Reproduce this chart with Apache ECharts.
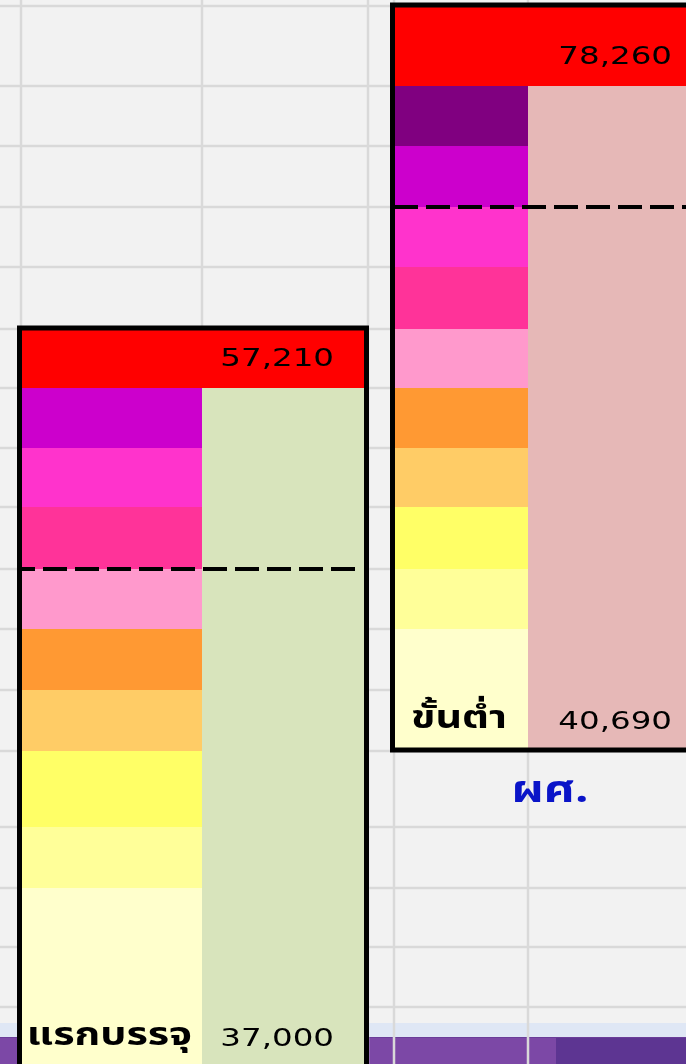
<!DOCTYPE html>
<html>
<head>
<meta charset="utf-8">
<title>ผศ.</title>
<script src="https://cdn.jsdelivr.net/npm/echarts@6/dist/echarts.min.js"></script>
<style>
  html, body { margin: 0; padding: 0; background: #f2f2f2; }
  #chart { width: 686px; height: 1064px; }
</style>
</head>
<body>
<div id="chart"></div>
<script>
// sheet grid, 1 unit = 1 px of the photographed sheet
var colLines = [21, 202, 368, 394, 528, 706];
var rowLines = [6, 86, 146, 207, 267, 329, 388, 448, 507, 569, 629, 690, 751, 827, 888, 947, 1007, 1068];

// salary bars
var rankNames = ['', 'ผศ.'];
var startLabels = ['แรกบรรจุ', 'ขั้นต่ำ'];
var startSalary = [37000, 40690];
var maxSalary = [57210, 78260];
var headerRow = [5, 0];
var barCols = [[0, 1, 2], [3, 4, 5]];
// rows taken by each step band, top to bottom
var bandRows = [
    [1, 1, 1, 1, 1, 1, 1, 1, 3],
    [1, 1, 1, 1, 1, 1, 1, 1, 1, 2]
];
var dashAfter = [3, 2];

var stepColors = ['#800080', '#CC00CC', '#FF33CC', '#FF3399', '#FF99CC', '#FF9933', '#FFCC66', '#FFFF66', '#FFFF99', '#FFFFCC'];
var rangeColors = ['#D8E4BC', '#E6B8B7'];
var numFont = '"DejaVu Sans", sans-serif';
var thaiFont = '"Noto Sans Thai", "Noto Sans Thai UI", "Loma", "Garuda", "Noto Sans", sans-serif';

var cells = [], frames = [], dashes = [], texts = [];
barCols.forEach(function (c, i) {
    var x0 = colLines[c[0]], xm = colLines[c[1]], x1 = colLines[c[2]];
    var r0 = headerRow[i];
    cells.push({value: [x0, x1, rowLines[r0], rowLines[r0 + 1]], itemStyle: {color: '#FF0000'}});
    var r = r0 + 1;
    var off = stepColors.length - bandRows[i].length;
    bandRows[i].forEach(function (n, j) {
        cells.push({value: [x0, xm, rowLines[r], rowLines[r + n]], itemStyle: {color: stepColors[off + j]}});
        r += n;
    });
    cells.push({value: [xm, x1, rowLines[r0 + 1], rowLines[r]], itemStyle: {color: rangeColors[i]}});
    frames.push([x0, x1, rowLines[r0], rowLines[r]]);
    dashes.push([x0, x1, rowLines[r0 + 1 + dashAfter[i]]]);

    texts.push({value: [x1, rowLines[r0 + 1]], name: maxSalary[i].toLocaleString('en-US'), kind: 'num'});
    texts.push({value: [x1, rowLines[r]], name: startSalary[i].toLocaleString('en-US'), kind: 'num'});
    texts.push({value: [(x0 + xm) / 2, rowLines[r]], name: startLabels[i], kind: 'thai'});
    if (rankNames[i]) {
        texts.push({value: [(x0 + x1) / 2, (rowLines[r] + rowLines[r + 1]) / 2], name: rankNames[i], kind: 'rank'});
    }
});

function rectOf(api, a, b, c, d) {
    var p0 = api.coord([a, c]);
    var p1 = api.coord([b, d]);
    return {x: p0[0], y: p0[1], width: p1[0] - p0[0], height: p1[1] - p0[1]};
}

var chart = echarts.init(document.getElementById('chart'));
chart.setOption({
    backgroundColor: '#f2f2f2',
    animation: false,
    grid: {left: 0, right: 0, top: 0, bottom: 0},
    xAxis: {type: 'value', min: 0, max: 686, show: false},
    yAxis: {type: 'value', min: 0, max: 1064, inverse: true, show: false},
    graphic: [
        {type: 'rect', left: 0, bottom: 27, shape: {width: 686, height: 14}, style: {fill: '#dfe7f5'}, z: 0},
        {type: 'rect', left: 0, bottom: 0, shape: {width: 556, height: 27}, style: {fill: '#7c48a6'}, z: 0},
        {type: 'rect', right: 0, bottom: 0, shape: {width: 130, height: 27}, style: {fill: '#5d3592'}, z: 0},
        {type: 'rect', left: 0, bottom: 26, shape: {width: 686, height: 1}, style: {fill: '#6a3d98'}, z: 0}
    ],
    series: [
        {
            // vertical sheet lines
            type: 'custom',
            z: 1,
            silent: true,
            data: colLines.map(function (x) { return [x, 0]; }),
            renderItem: function (params, api) {
                var x = api.coord([api.value(0), 0])[0];
                var cs = params.coordSys;
                return {type: 'line', shape: {x1: x, y1: cs.y, x2: x, y2: cs.y + cs.height},
                    style: {stroke: '#d9d9d9', lineWidth: 2.5}};
            }
        },
        {
            // horizontal sheet lines
            type: 'custom',
            z: 1,
            silent: true,
            data: rowLines.map(function (y) { return [0, y]; }),
            renderItem: function (params, api) {
                var y = api.coord([0, api.value(1)])[1];
                var cs = params.coordSys;
                if (y > 1020) return null;
                return {type: 'line', shape: {x1: cs.x, y1: y, x2: cs.x + cs.width, y2: y},
                    style: {stroke: '#d9d9d9', lineWidth: 2.5}};
            }
        },
        {
            type: 'custom',
            z: 3,
            data: cells,
            renderItem: function (params, api) {
                return {type: 'rect',
                    shape: rectOf(api, api.value(0), api.value(1), api.value(2), api.value(3)),
                    style: {fill: api.visual('color')}};
            }
        },
        {
            type: 'custom',
            z: 4,
            data: dashes,
            renderItem: function (params, api) {
                var p0 = api.coord([api.value(0), api.value(2)]);
                var p1 = api.coord([api.value(1) - (params.dataIndex === 0 ? 10 : 0), api.value(2)]);
                return {type: 'line', shape: {x1: p0[0], y1: p0[1], x2: p1[0], y2: p1[1]},
                    style: {stroke: '#000', lineWidth: 4, lineDash: [24, 8], lineDashOffset: params.dataIndex === 0 ? 10 : 0}};
            }
        },
        {
            type: 'custom',
            z: 5,
            data: frames,
            renderItem: function (params, api) {
                var s = rectOf(api, api.value(0), api.value(1), api.value(2), api.value(3));
                s.x -= 1.5; s.y -= 1;
                return {type: 'rect', shape: s, style: {fill: 'none', stroke: '#000', lineWidth: 5}};
            }
        },
        {
            type: 'custom',
            z: 6,
            data: texts,
            renderItem: function (params, api) {
                var item = texts[params.dataIndex];
                var p = api.coord([api.value(0), api.value(1)]);
                if (item.kind === 'num') {
                    return {type: 'text', x: p[0] - 34, y: p[1] - 29, scaleX: 1.3,
                        style: {text: item.name, fill: '#000', fontFamily: numFont, fontSize: 25,
                            align: 'right', verticalAlign: 'middle'}};
                }
                if (item.kind === 'thai') {
                    return {type: 'text', x: p[0] - 2, y: p[1] - 29, scaleX: 1.33,
                        style: {text: item.name, fill: '#000', fontFamily: thaiFont, fontSize: 31,
                            fontWeight: 'bold', align: 'center', verticalAlign: 'middle'}};
                }
                return {type: 'text', x: p[0], y: p[1] + 5, scaleX: 1.25,
                    style: {text: item.name, fill: '#0a14c8', fontFamily: thaiFont, fontSize: 38,
                        fontWeight: 'bold', align: 'center', verticalAlign: 'middle'}};
            }
        }
    ]
});
</script>
</body>
</html>
